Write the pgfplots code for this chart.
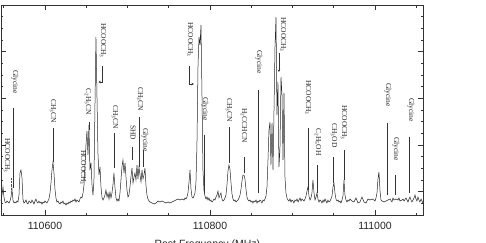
\documentclass[border=0pt]{standalone}
\usepackage{fontspec}
\setmainfont{Liberation Serif}
\newfontfamily\sansf{Liberation Sans}
\usepackage{pgfplots}
\pgfplotsset{compat=1.18}
\usepackage{pgfplotstable}
\usetikzlibrary{arrows.meta}

\pgfplotstableread{
x h
110546.7 14
110547.9 20
110549.1 28
110550.3 18
110551.5 13
110552.7 12
110553.9 14
110555.2 13
110556.4 12
110557.6 14
110558.8 18
110560.0 26
110561.2 15
110562.4 12
110563.6 13
110564.8 12
110566.1 14
110567.3 13
110568.5 20
110569.7 42
110570.9 45
110572.1 38
110573.3 16
110574.5 12
110575.8 13
110577.0 15
110578.2 12
110579.4 11
110580.6 14
110581.8 13
110583.0 12
110584.2 15
110585.5 13
110586.7 11
110587.9 14
110589.1 16
110590.3 13
110591.5 12
110592.7 14
110593.9 12
110595.2 13
110596.4 11
110597.6 13
110598.8 12
110600.0 14
110601.2 13
110602.4 12
110603.6 14
110604.8 16
110606.1 22
110607.3 32
110608.5 45
110609.7 53
110610.9 42
110612.1 26
110613.3 17
110614.5 13
110615.8 14
110617.0 12
110618.2 11
110619.4 13
110620.6 12
110621.8 14
110623.0 11
110624.2 12
110625.5 10
110626.7 12
110627.9 11
110629.1 13
110630.3 12
110631.5 14
110632.7 13
110633.9 15
110635.2 14
110636.4 16
110637.6 13
110638.8 15
110640.0 14
110641.2 13
110642.4 16
110643.6 18
110644.8 17
110646.1 22
110647.3 30
110648.5 50
110649.7 70
110650.9 84
110652.1 60
110653.3 90
110654.5 45
110655.8 52
110657.0 30
110658.2 20
110659.4 35
110660.6 110
110661.8 178
110663.0 120
110664.2 62
110665.5 40
110666.7 48
110667.9 28
110669.1 18
110670.3 15
110671.5 17
110672.7 20
110673.9 25
110675.2 18
110676.4 22
110677.6 16
110678.8 23
110680.0 17
110681.2 22
110682.4 30
110683.6 42
110684.8 28
110686.1 17
110687.3 14
110688.5 16
110689.7 14
110690.9 22
110692.1 35
110693.3 48
110694.5 55
110695.8 42
110697.0 52
110698.2 38
110699.4 25
110700.6 18
110701.8 20
110703.0 28
110704.2 38
110705.5 47
110706.7 32
110707.9 38
110709.1 42
110710.3 35
110711.5 50
110712.7 36
110713.9 48
110715.2 40
110716.4 33
110717.6 45
110718.8 36
110720.0 40
110721.2 47
110722.4 30
110723.6 20
110724.8 16
110726.1 14
110727.3 13
110729.7 12
110732.1 11
110734.5 12
110737.0 14
110739.4 13
110741.8 14
110744.2 13
110746.7 12
110749.1 13
110751.5 12
110753.9 13
110756.4 14
110758.8 15
110761.2 16
110763.6 15
110766.1 16
110768.5 15
110769.7 17
110770.9 16
110772.1 18
110773.3 22
110774.5 32
110775.8 45
110777.0 26
110778.2 18
110779.4 17
110780.6 19
110781.8 22
110783.0 32
110784.2 70
110785.5 150
110786.7 178
110787.9 170
110789.1 190
110790.3 120
110791.5 45
110792.7 25
110793.9 19
110795.2 16
110796.4 18
110797.6 15
110798.8 17
110800.0 14
110801.2 15
110802.4 13
110803.6 14
110804.8 16
110806.1 15
110807.3 18
110808.5 20
110809.7 24
110810.9 17
110812.1 20
110813.3 22
110814.5 16
110815.8 14
110817.0 15
110818.2 17
110819.4 20
110820.6 30
110821.8 44
110823.0 50
110824.2 46
110825.5 32
110826.7 21
110827.9 16
110829.1 14
110830.3 15
110831.5 13
110832.7 14
110833.9 15
110835.2 17
110836.4 20
110837.6 26
110838.8 34
110840.0 40
110841.2 40
110842.4 36
110843.6 26
110844.8 18
110846.1 15
110847.3 14
110848.5 15
110849.7 13
110850.9 14
110852.1 12
110853.3 14
110854.5 13
110855.8 15
110857.0 12
110858.2 14
110859.4 13
110860.6 15
110861.8 14
110863.0 12
110864.2 15
110865.5 14
110866.7 16
110867.9 19
110869.1 28
110870.3 55
110871.5 85
110872.7 93
110873.9 50
110875.2 92
110876.4 45
110877.6 105
110878.8 168
110880.0 198
110881.2 100
110882.4 133
110883.6 48
110884.8 65
110886.1 138
110887.3 120
110888.5 55
110889.7 122
110890.9 38
110892.1 22
110893.3 17
110894.5 15
110895.8 14
110897.0 16
110898.2 13
110899.4 15
110900.6 14
110901.8 12
110903.0 15
110904.2 14
110905.5 16
110906.7 13
110907.9 15
110909.1 17
110910.3 14
110911.5 16
110912.7 15
110913.9 14
110915.2 16
110916.4 19
110917.6 24
110918.8 28
110920.0 19
110921.2 15
110922.4 17
110923.6 22
110924.8 35
110926.1 22
110927.3 15
110928.5 18
110929.7 22
110930.9 16
110932.1 13
110933.3 15
110934.5 14
110935.8 12
110937.0 15
110938.2 13
110939.4 16
110940.6 14
110941.8 12
110943.0 15
110944.2 13
110945.5 14
110946.7 16
110947.9 19
110949.1 28
110950.3 32
110951.5 22
110952.7 16
110953.9 14
110955.2 15
110956.4 13
110957.6 14
110958.8 12
110960.0 15
110961.2 19
110962.4 35
110963.6 20
110964.8 15
110966.1 13
110967.3 15
110968.5 14
110969.7 16
110972.1 14
110974.5 13
110977.0 17
110979.4 12
110981.8 13
110984.2 18
110986.7 13
110989.1 12
110991.5 16
110993.9 15
110996.4 16
110998.8 15
111000.0 14
111001.2 17
111002.4 22
111003.6 36
111004.8 43
111006.1 24
111007.3 15
111008.5 14
111010.9 13
111013.3 14
111015.8 15
111018.2 16
111020.6 13
111021.8 17
111023.0 15
111025.5 16
111027.9 15
111029.1 17
111030.3 14
111032.7 15
111033.9 16
111035.2 14
111037.6 17
111040.0 13
111041.2 16
111042.4 18
111043.6 15
111044.8 13
111047.3 17
111048.5 20
111049.7 16
111050.9 14
111052.1 18
111053.3 15
111054.5 13
111055.8 16
111057.0 14
111058.2 12
}\spec

\newcommand{\lab}[3]{\node[rotate=-90,anchor=west,inner sep=0pt,font=\fontsize{7.5}{8}\selectfont,text=black!85] at (axis cs:#1,#2) {#3};}
\newcommand{\mk}[3]{\draw[black!80,line width=0.5pt] (axis cs:#1,#2) -- (axis cs:#1,#3);}

\begin{document}
\begin{tikzpicture}
\begin{axis}[
  at={(1pt,27pt)}, anchor=south west,
  scale only axis, width=422pt, height=210pt,
  xmin=110546.7, xmax=111058.2, ymin=0, ymax=210,
  axis line style={black!80, line width=0.6pt},
  tick align=inside,
  major tick length=5pt, minor tick length=2.5pt,
  every tick/.style={black!80, line width=0.5pt},
  scaled x ticks=false, scaled y ticks=false,
  xtick={110600,110800,111000},
  minor xtick={110550,110650,110700,110750,110850,110900,110950,111050},
  xticklabels={110600,110800,111000},
  xticklabel style={font=\sansf\fontsize{10.5}{12}\selectfont, text=black!85, yshift=-4pt},
  ytick={23.33,70,116.67,163.33},
  minor ytick={11.67,35,46.67,58.33,81.67,93.33,105,128.33,140,151.67,175,186.67,198.33},
  yticklabels={},
  /pgf/number format/assume math mode=true,
  xlabel={Rest Frequency (MHz)},
  xlabel style={font=\sansf\fontsize{10.5}{12}\selectfont, text=black!85,
    at={(axis description cs:0.489,0)}, anchor=north, inner sep=0pt, yshift=-25pt},
  clip=false,
]
\addplot[black!85, line width=0.5pt] table[x=x,y=h] {\spec};

% annotations
\lab{110553.9}{77}{HCOOCH\textsubscript{3}}
\draw[black!70,line width=0.4pt,densely dotted] (axis cs:110558.8,37) -- (axis cs:110558.8,25);
\lab{110563.6}{145}{Glycine}
\mk{110561.2}{107}{27}
\lab{110609.7}{116}{CH\textsubscript{3}CN}
\mk{110609.7}{87}{53}
\lab{110652.1}{127}{C\textsubscript{2}H\textsubscript{5}CN}
\mk{110653.3}{93}{85}
\lab{110646.1}{65}{HCOOCH\textsubscript{3}}
\lab{110670.3}{192}{HCOOCH\textsubscript{3}}
\draw[black!80,line width=0.5pt,-{Stealth[length=2.5pt,width=2.5pt]}] (axis cs:110669.1,149) -- (axis cs:110669.1,133) -- (axis cs:110664.6,133);
\lab{110684.8}{110}{CH\textsubscript{3}CN}
\mk{110683.6}{82}{47}
\lab{110706.7}{90}{SHD}
\mk{110705.5}{68}{55}
\lab{110715.2}{128}{CH\textsubscript{3}CN}
\mk{110713.9}{98}{48}
\lab{110721.2}{87}{Glycine}
\mk{110718.8}{65}{48}
\lab{110775.8}{193}{HCOOCH\textsubscript{3}}
\draw[black!80,line width=0.5pt,-{Stealth[length=2.5pt,width=2.5pt]}] (axis cs:110774.5,149) -- (axis cs:110774.5,131) -- (axis cs:110780.6,131);
\lab{110794.0}{118}{Glycine}
\mk{110792.7}{80}{22}
\lab{110823.0}{117}{CH\textsubscript{3}CN}
\mk{110823.0}{88}{52}
\lab{110841.2}{107}{H\textsubscript{2}CCHCN}
\mk{110841.2}{58}{42}
\lab{110859.4}{165}{Glycine}
\mk{110858.2}{125}{22}
\lab{110888.5}{198}{HCOOCH\textsubscript{3}}
\draw[black!80,line width=0.5pt,-{Stealth[length=2.5pt,width=2.5pt]}] (axis cs:110883.6,162) -- (axis cs:110883.6,143);
\lab{110918.8}{135}{HCOOCH\textsubscript{3}}
\mk{110918.8}{87}{25}
\lab{110930.9}{87}{C\textsubscript{2}H\textsubscript{5}OH}
\mk{110929.7}{50}{22}
\lab{110950.3}{92}{CH\textsubscript{3}OD}
\mk{110949.1}{58}{32}
\lab{110962.4}{110}{HCOOCH\textsubscript{3}}
\mk{110962.4}{65}{35}
\lab{111015.8}{132}{Glycine}
\mk{111014.5}{92}{20}
\lab{111025.5}{78}{Glycine}
\mk{111024.2}{40}{20}
\lab{111043.6}{117}{Glycine}
\mk{111041.2}{78}{22}
\end{axis}
\pgfresetboundingbox
\path[use as bounding box] (0,0) rectangle (486pt,242pt);
\end{tikzpicture}
\end{document}
